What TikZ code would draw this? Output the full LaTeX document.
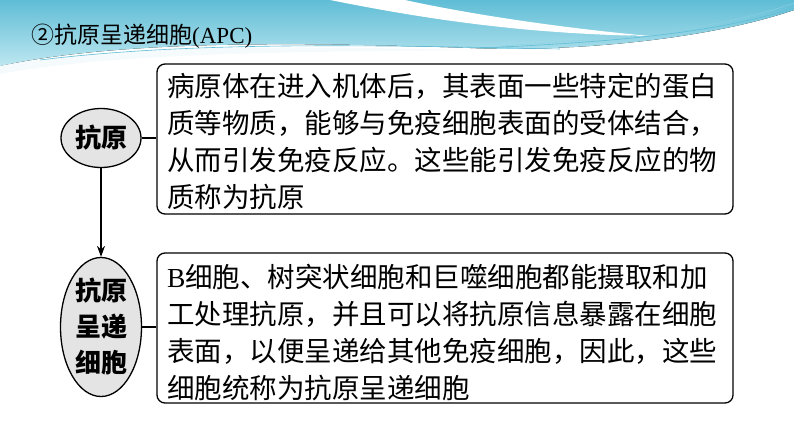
\documentclass[tikz,border=0pt]{standalone}
\usepackage{fontspec}
\setmainfont{Liberation Serif}
\newfontfamily\cjk{Noto Sans CJK SC}
\usetikzlibrary{shapes.geometric,arrows.meta}
\definecolor{swdark}{HTML}{5FBDD6}
\definecolor{swlight}{HTML}{BDE7F0}
\definecolor{ovalgray}{HTML}{E4E4E4}
\tikzset{
	oval/.style={ellipse, draw=black, line width=1.3pt, fill=ovalgray, inner sep=0pt, font=\cjk\bfseries\fontsize{26pt}{36pt}\selectfont, align=center},
	infobox/.style={draw=black, line width=1.3pt, rounded corners=8pt, minimum width=576pt, minimum height=150pt, inner sep=0pt},
	infotext/.style={text width=556pt, align=left, inner sep=0pt, font=\cjk\fontsize{27.5pt}{37pt}\selectfont},
	link/.style={line width=1.2pt}
}

\begin{document}
\begin{tikzpicture}[x=1pt, y=-1pt]
			%%%%% START %%%%%
			
			\useasboundingbox[fill=white] (0, 0) rectangle (794, 447);
			
			\fill[top color=swdark, bottom color=swlight] (0, 0) -- (794, 0) -- (794, 10) .. controls (700, 42) and (560, 52) .. (470, 48) .. controls (300, 42) and (120, 40) .. (0, 66) -- cycle;
			\fill[white] (330, 0) .. controls (420, 18) and (520, 34) .. (650, 36) .. controls (540, 26) and (450, 10) .. (405, 0) -- cycle;
			\fill[white!85!swlight] (0, 66) .. controls (120, 44) and (300, 46) .. (470, 50) .. controls (300, 52) and (120, 52) .. (0, 74) -- cycle;
			\draw[line width=0.6pt, color=swdark] (40, 60) .. controls (200, 40) and (400, 46) .. (560, 49);
			\draw[line width=0.6pt, color=swdark] (480, 48) .. controls (620, 42) and (720, 32) .. (794, 8);
			\draw[line width=0.4pt, color=swdark!70] (500, 46) .. controls (640, 38) and (730, 26) .. (794, 3);
			
			\node[anchor=west, inner sep=0pt] (title) at (31, 36) {\fontsize{23pt}{26pt}\selectfont{\cjk ②抗原呈递细胞}(APC)};
			
			\node[oval, minimum width=80pt, minimum height=59pt] (antigen) at (101, 138) {抗原};
			\node[oval, minimum width=81pt, minimum height=139pt] (apc) at (101, 327) {抗原\\呈递\\细胞};
			
			\node[infobox] (defbox) at (445, 139) {};
			\node[infotext, yshift=-3pt] (deftext) at (defbox.center) {病原体在进入机体后，其表面一些特定的蛋白\\质等物质，能够与免疫细胞表面的受体结合，\\从而引发免疫反应。这些能引发免疫反应的物\\质称为抗原};
			\node[infobox] (apcbox) at (445, 328) {};
			\node[infotext, yshift=-5pt] (apctext) at (apcbox.center) {{\rmfamily B}细胞、树突状细胞和巨噬细胞都能摄取和加\\工处理抗原，并且可以将抗原信息暴露在细胞\\表面，以便呈递给其他免疫细胞，因此，这些\\细胞统称为抗原呈递细胞};
			
			\draw[link, -{Stealth[length=11pt, width=8pt]}] (antigen) -- (apc);
			\draw[link] (antigen.east) -- (antigen.east -| defbox.west);
			\draw[link] (apc.east) -- (apc.east -| apcbox.west);
			
			%%%%% END %%%%%
\end{tikzpicture}
\end{document}
